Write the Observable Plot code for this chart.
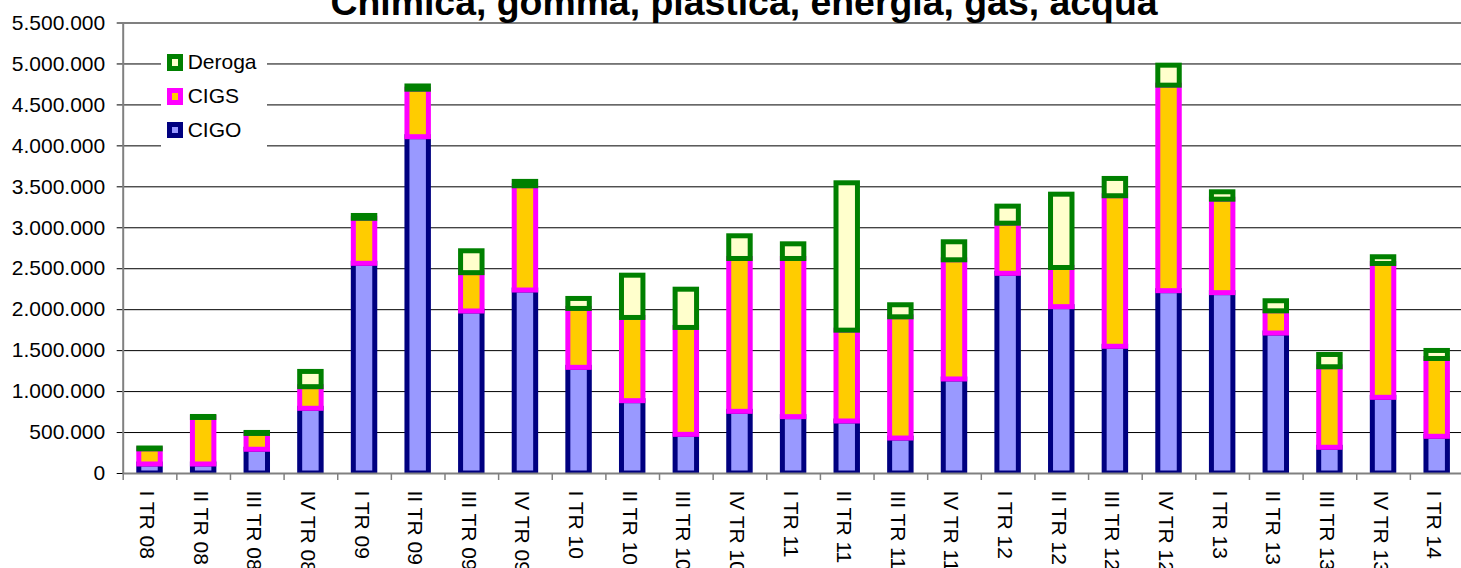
<!DOCTYPE html>
<html><head><meta charset="utf-8">
<script src="https://cdn.jsdelivr.net/npm/d3@7"></script>
<script src="https://cdn.jsdelivr.net/npm/@observablehq/plot@0.6"></script>
<style>
html,body{margin:0;padding:0;background:#fff;overflow:hidden;}
#wrap{position:relative;width:1461px;height:568px;overflow:hidden;background:#fff;}
#chart{position:absolute;left:0;top:0;width:1464px;}
#title{position:absolute;left:0;width:1488px;text-align:center;top:-15.8px;font:bold 37.4px "Liberation Sans",Arial,sans-serif;line-height:37.4px;white-space:nowrap;color:#000;z-index:2;}
#legend{position:absolute;left:161px;top:42px;width:106px;height:108px;background:#fff;font:21px "Liberation Sans",Arial,sans-serif;z-index:2;}
.item{position:absolute;left:5.7px;height:16.7px;display:flex;align-items:center;}
.sw{box-sizing:border-box;width:16.7px;height:16.7px;border:5px solid;margin-right:4.3px;flex:none;}
.item span{line-height:16.7px;white-space:nowrap;}
</style></head>
<body>
<div id="wrap">
  <div id="chart"></div>
  <div id="title">Chimica, gomma, plastica, energia, gas, acqua</div>
  <div id="legend"></div>
</div>
<script>
const quarters = ["I TR 08","II TR 08","III TR 08","IV TR 08","I TR 09","II TR 09","III TR 09","IV TR 09",
  "I TR 10","II TR 10","III TR 10","IV TR 10","I TR 11","II TR 11","III TR 11","IV TR 11",
  "I TR 12","II TR 12","III TR 12","IV TR 12","I TR 13","II TR 13","III TR 13","IV TR 13","I TR 14"];
const cigo = [110000,110000,290000,790000,2560000,4106000,1978000,2234000,
  1290000,883000,472000,753000,688000,635000,427000,1148000,
  2438000,2031000,1547000,2226000,2202000,1709000,314000,924000,448000];
const cigs = [185000,568000,193000,264000,550000,580000,468000,1273000,
  719000,1016000,1305000,1866000,1931000,1109000,1480000,1455000,
  612000,478000,1838000,2509000,1141000,271000,983000,1634000,950000];
const deroga = [10000,12000,12000,186000,34000,39000,267000,53000,
  122000,516000,467000,277000,179000,1799000,147000,220000,
  208000,895000,211000,244000,90000,123000,150000,82000,98000];
const yTicks = [0,500000,1000000,1500000,2000000,2500000,3000000,3500000,4000000,4500000,5000000,5500000];
const seriesNames = ["Deroga","CIGS","CIGO"];
const seriesFill = {Deroga:"#FFFFCC", CIGS:"#FFCC00", CIGO:"#9999FF"};
const seriesStroke = {Deroga:"#008000", CIGS:"#FF00FF", CIGO:"#000080"};

const rows = quarters.map((q, i) => ({q, cigo: cigo[i], cigs: cigs[i], deroga: deroga[i]}));
const fmt = d => d3.format(",")(d).replace(/,/g, ".");
const font = "'Liberation Sans', Arial, sans-serif";
const W = 1464, ML = 122.7, MR = 0.5;
const step = (W - ML - MR) / quarters.length;

const chart = Plot.plot({
  width: W, height: 620,
  marginLeft: ML, marginRight: MR, marginTop: 22.5, marginBottom: 147,
  style: {fontFamily: font, fontSize: "21px", background: "white", maxWidth: "none", overflow: "visible", color: "black"},
  x: {type: "band", domain: quarters, paddingInner: 0.6, paddingOuter: 0.3, round: false, axis: null},
  y: {domain: [0, 5500000], axis: null},
  marks: [
    Plot.ruleY(yTicks, {stroke: "#000", strokeWidth: 1, insetLeft: -6}),
    Plot.barY(rows, {x: "q", y1: 0, y2: "cigo", fill: seriesFill.CIGO, stroke: seriesStroke.CIGO, strokeWidth: 5, clip: true}),
    Plot.barY(rows, {x: "q", y1: "cigo", y2: d => d.cigo + d.cigs, fill: seriesFill.CIGS, stroke: seriesStroke.CIGS, strokeWidth: 5, clip: true}),
    Plot.barY(rows, {x: "q", y1: d => d.cigo + d.cigs, y2: d => d.cigo + d.cigs + d.deroga, fill: seriesFill.Deroga, stroke: seriesStroke.Deroga, strokeWidth: 5, clip: true}),
    Plot.ruleY([yTicks[0]], {stroke: "#808080", strokeWidth: 2}),
    Plot.ruleY([yTicks[yTicks.length - 1]], {stroke: "#808080", strokeWidth: 2}),
    Plot.ruleX([quarters[0]], {x: d => d, dx: -step / 2, stroke: "#808080", strokeWidth: 2}),
    Plot.axisX({tickSize: 7, tickFormat: () => "", dx: -step / 2, stroke: "#808080", strokeWidth: 1.5, label: null}),
    Plot.text(quarters, {x: d => d, frameAnchor: "bottom", rotate: 90, textAnchor: "start", dx: -10, dy: 17, fontSize: 21, fill: "black"}),
    Plot.axisY({ticks: yTicks, tickFormat: fmt, tickSize: 0, tickPadding: 18, fontSize: 21, label: null, fill: "black"})
  ]
});
document.getElementById("chart").appendChild(chart);

const legend = document.getElementById("legend");
const tops = [12.3, 46.3, 79.7];
seriesNames.forEach((name, i) => {
  const item = document.createElement("div");
  item.className = "item";
  item.style.top = tops[i] + "px";
  const sw = document.createElement("div");
  sw.className = "sw";
  sw.style.background = seriesFill[name];
  sw.style.borderColor = seriesStroke[name];
  const t = document.createElement("span");
  t.textContent = name;
  item.appendChild(sw); item.appendChild(t);
  legend.appendChild(item);
});
</script>
</body></html>
